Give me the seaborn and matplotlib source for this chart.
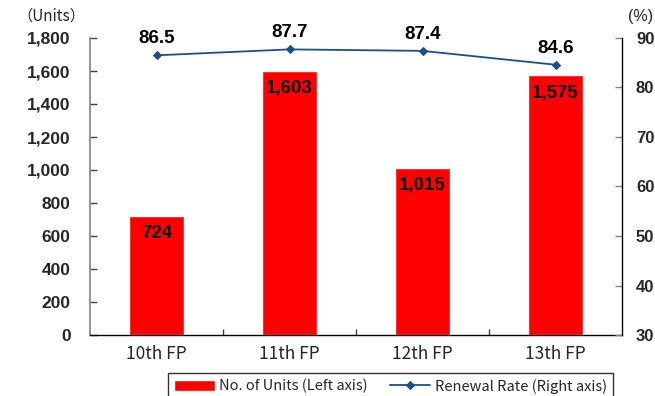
import matplotlib
matplotlib.use("Agg")
import matplotlib.pyplot as plt
from matplotlib.ticker import FuncFormatter, MultipleLocator
import seaborn as sns
import pandas as pd

# Fiscal periods and values
periods = ["10th FP", "11th FP", "12th FP", "13th FP"]
units = [724, 1603, 1015, 1575]
renewal_rate = [86.5, 87.7, 87.4, 84.6]

df = pd.DataFrame({"period": periods, "units": units, "rate": renewal_rate})

sns.set_style("white")
plt.rcParams["font.family"] = ["Liberation Sans", "DejaVu Sans"]

bar_color = "#FF0000"
line_color = "#1B4F8A"
gothic = ["Noto Sans CJK JP", "DejaVu Sans"]

fig = plt.figure(figsize=(6.55, 3.96), dpi=100)
ax = fig.add_axes([90 / 655, 61 / 396, 532 / 655, 297 / 396])

sns.barplot(data=df, x="period", y="units", color=bar_color, width=0.41,
            saturation=1, ax=ax, label="No. of Units (Left axis)")
ax.set_ylim(0, 1800)
ax.set_xlim(-0.5, 3.5)
ax.yaxis.set_major_locator(MultipleLocator(200))
ax.yaxis.set_major_formatter(FuncFormatter(lambda v, p: f"{int(v):,}"))
ax.set_xlabel("")
ax.set_ylabel("")

for i, v in enumerate(units):
    ax.annotate(f"{v:,}", (i, v), xytext=(0, -13), textcoords="offset points",
                ha="center", va="center", fontsize=13.5, fontweight="bold",
                color="black")

ax2 = ax.twinx()
sns.lineplot(data=df, x="period", y="rate", color=line_color, marker="D",
             markersize=4.5, markeredgecolor=line_color, linewidth=1.3,
             ax=ax2, label="Renewal Rate (Right axis)", legend=False)
ax2.set_ylim(30, 90)
ax2.yaxis.set_major_locator(MultipleLocator(10))
ax2.set_ylabel("")
ax2.set_xlim(-0.5, 3.5)

for i, v in enumerate(renewal_rate):
    ax2.annotate(f"{v:.1f}", (i, v), xytext=(0, 12), textcoords="offset points",
                 ha="center", va="center", fontsize=13.5, fontweight="bold",
                 color="black")

# Axis styling
for a in (ax, ax2):
    for s in a.spines.values():
        s.set_visible(False)
ax.spines["left"].set_visible(True)
ax.spines["left"].set_color("#808080")
ax.spines["left"].set_linewidth(1.2)
ax.spines["bottom"].set_visible(True)
ax.spines["bottom"].set_color("black")
ax.spines["bottom"].set_linewidth(1.0)
ax2.spines["right"].set_visible(True)
ax2.spines["right"].set_color("black")
ax2.spines["right"].set_linewidth(1.0)

ax.tick_params(axis="y", direction="in", length=5, width=1, color="#404040",
               labelsize=12.5, pad=14)
for t in ax.get_yticklabels():
    t.set_fontweight("bold")
ax2.tick_params(axis="y", direction="in", length=5, width=1, color="#808080",
                labelsize=12, pad=10)
for t in ax2.get_yticklabels():
    t.set_fontweight("bold")

# category separators on the x axis
ax.set_xticks([0, 1, 2, 3])
ax.set_xticks([0.5, 1.5, 2.5], minor=True)
ax.tick_params(axis="x", which="major", length=0, pad=7)
ax.tick_params(axis="x", which="minor", direction="in", length=4, width=1,
               color="#404040", bottom=True)
ax.set_xticklabels(periods, fontsize=12.5, family=gothic)
ax2.tick_params(axis="x", bottom=False, top=False)

fig.text(17 / 655, 1 - 16 / 396, "（Units）", fontsize=11, family=gothic,
         ha="left", va="center")
fig.text(653 / 655, 1 - 16 / 396, "(%)", fontsize=11.5,
         ha="right", va="center")

h1, l1 = ax.get_legend_handles_labels()
h2, l2 = ax2.get_legend_handles_labels()
if ax.get_legend() is not None:
    ax.get_legend().remove()
leg = fig.legend(h1 + h2, l1 + l2, loc="upper left",
                 bbox_to_anchor=(168 / 655, 1 - 373 / 396), ncol=2,
                 frameon=True, fancybox=False, edgecolor="black",
                 prop={"family": gothic, "size": 10.5},
                 handlelength=2.8, handletextpad=0.3, columnspacing=1.5,
                 borderpad=0.4, borderaxespad=0)
leg.get_frame().set_linewidth(1.0)

fig.savefig("out.png", dpi=100)
